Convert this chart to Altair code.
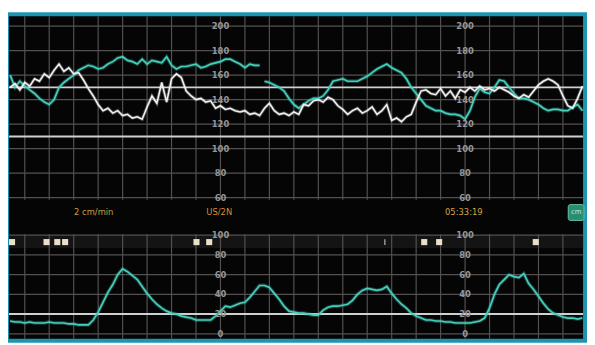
import altair as alt
import pandas as pd

# ---- data ----
t = [-6, -4, -2, 0, 2, 4, 6, 8, 10, 12, 14, 16, 18, 20, 22, 24, 26, 28, 30, 32,
     34, 36, 38, 40, 42, 44, 46, 48, 50, 52, 54, 56, 58, 60, 62, 64, 66, 68, 70, 72,
     74, 76, 78, 80, 82, 84, 86, 88, 90, 92, 94, 96, 98, 100, 102, 104, 106, 108, 110, 112,
     114, 116, 118, 120, 122, 124, 126, 128, 130, 132, 134, 136, 138, 140, 142, 144, 146, 148, 150, 152,
     154, 156, 158, 160, 162, 164, 166, 168, 170, 172, 174, 176, 178, 180, 182, 184, 186, 188, 190, 192,
     194, 196, 198, 200, 202, 204, 206, 208, 210, 212, 214, 216, 218, 220, 222, 224, 226, 228]

fhr_white = [150, 153, 148, 154, 151, 157, 155, 161, 158, 164, 169, 163, 166, 161, 162, 156, 149, 143, 136, 131,
             133, 129, 131, 127, 128, 125, 126, 124, 134, 143, 137, 154, 138, 157, 161, 158, 147, 143, 140, 141,
             138, 139, 133, 135, 132, 133, 131, 130, 131, 128, 129, 127, 133, 137, 131, 128, 129, 127, 130, 128,
             136, 135, 139, 140, 138, 142, 140, 135, 132, 128, 131, 133, 129, 131, 134, 128, 131, 136, 123, 125,
             122, 126, 128, 138, 147, 148, 145, 144, 149, 143, 147, 141, 148, 146, 150, 147, 151, 148, 149, 147,
             150, 148, 146, 143, 141, 144, 142, 147, 152, 155, 157, 155, 152, 143, 135, 133, 141, 151]

fhr_teal = [160, 150, 155, 151, 148, 145, 141, 138, 136, 140, 150, 154, 157, 160, 164, 166, 168, 167, 165, 166,
            169, 171, 174, 175, 172, 171, 169, 173, 169, 172, 171, 170, 175, 168, 165, 167, 167, 168, 169, 166,
            167, 169, 170, 171, 173, 173, 171, 169, 166, 169, 168, 168, 155, 154, 152, 150, 147, 141, 136, 133,
            136, 139, 141, 141, 143, 148, 155, 156, 157, 155, 155, 155, 157, 159, 162, 165, 167, 169, 166, 164,
            162, 157, 150, 145, 140, 135, 133, 131, 131, 129, 128, 128, 127, 124, 131, 142, 149, 146, 145, 150,
            156, 155, 150, 145, 141, 141, 140, 138, 136, 133, 131, 132, 132, 131, 131, 134, 136, 131]

ua = [13, 12, 12, 11, 12, 11, 11, 11, 12, 11, 11, 11, 10, 10, 9, 9, 9, 14, 22, 32,
      42, 50, 60, 66, 63, 59, 55, 48, 41, 35, 30, 26, 23, 21, 20, 18, 17, 16, 14, 14,
      14, 14, 18, 23, 28, 27, 29, 31, 32, 37, 43, 49, 49, 47, 41, 35, 28, 23, 22, 21,
      21, 20, 19, 19, 24, 27, 28, 28, 29, 30, 34, 40, 44, 46, 45, 44, 45, 48, 41, 35,
      30, 26, 21, 18, 16, 14, 14, 13, 13, 12, 12, 11, 11, 11, 11, 12, 13, 16, 26, 40,
      50, 55, 60, 58, 57, 61, 51, 45, 38, 31, 25, 21, 19, 17, 16, 16, 15, 16]

teal_gap_after = 96

fhr_ticks = [200, 180, 160, 140, 120, 100, 80, 60]
ua_ticks = [100, 80, 60, 40, 20, 0]
fhr_bold = [150, 110]
ua_bold = [20]
grid_t = [0, 10, 20, 30, 40, 50, 60, 70, 80, 90, 100, 110, 120, 130, 140, 150, 160, 170, 180, 190, 200, 210, 220]
label_cols = [80, 180]

marker_t = [-5.2, 8.9, 13.3, 16.5, 70.2, 75.4, 163.3, 169.4, 208.9]
marker_ua = 93
tick_t = [147.2]

status_text = ["2 cm/min", "US/2N", "05:33:19"]
status_t = [28.2, 79.5, 179.5]
status_color = ["#c9a043", "#d98a30", "#d6a445"]

# ---- tables ----
df_white = pd.DataFrame({"t": t, "v": fhr_white})
df_teal = pd.DataFrame({"t": t, "v": fhr_teal,
                        "seg": [1 if x <= teal_gap_after else 2 for x in t]})
df_ua = pd.DataFrame({"t": t, "v": ua})
df_grid = pd.DataFrame({"t": grid_t})
df_fhr_ticks = pd.DataFrame({"v": fhr_ticks})
df_ua_ticks = pd.DataFrame({"v": ua_ticks})
df_fhr_bold = pd.DataFrame({"v": fhr_bold})
df_ua_bold = pd.DataFrame({"v": ua_bold})
df_fhr_lab = pd.DataFrame([{"t": c, "v": v, "label": str(v)} for c in label_cols for v in fhr_ticks])
df_ua_lab = pd.DataFrame([{"t": c, "v": v, "label": str(v)} for c in label_cols for v in ua_ticks])
df_mark = pd.DataFrame({"t": marker_t, "v": [marker_ua] * len(marker_t)})
df_tick = pd.DataFrame({"t": tick_t, "v": [marker_ua] * len(tick_t)})
df_status = pd.DataFrame({"t": status_t, "label": status_text, "c": status_color})
one = pd.DataFrame({"a": [0]})

xs = alt.Scale(domain=[-6.45, 228.23], range=[1, 583], nice=False, zero=False)
fs = alt.Scale(domain=[60, 200], range=[190, 16], nice=False, zero=False)
us = alt.Scale(domain=[0, 100], range=[328, 228], nice=False, zero=False)

X = alt.X("t:Q", scale=xs, axis=None)
YF = alt.Y("v:Q", scale=fs, axis=None)
YU = alt.Y("v:Q", scale=us, axis=None)

frame = alt.Chart(one).mark_rect(color="#1c94b2").encode(
    x=alt.value(0), x2=alt.value(587), y=alt.value(2), y2=alt.value(337))
black = alt.Chart(one).mark_rect(color="#050505").encode(
    x=alt.value(1), x2=alt.value(583), y=alt.value(6), y2=alt.value(333))
band = alt.Chart(one).mark_rect(color="#141414").encode(
    x=alt.value(1), x2=alt.value(583), y=alt.value(228), y2=alt.value(241))

GRID = "#545052"
vgrid_top = alt.Chart(df_grid).mark_rule(color=GRID, strokeWidth=1.2).encode(
    x=X, y=alt.value(6), y2=alt.value(192))
vgrid_bot = alt.Chart(df_grid).mark_rule(color=GRID, strokeWidth=1.2).encode(
    x=X, y=alt.value(227), y2=alt.value(333))
hgrid_top = alt.Chart(df_fhr_ticks).mark_rule(color=GRID, strokeWidth=1.2).encode(
    y=YF, x=alt.value(1), x2=alt.value(583))
hgrid_bot = alt.Chart(df_ua_ticks).mark_rule(color=GRID, strokeWidth=1.2).encode(
    y=YU, x=alt.value(1), x2=alt.value(583))
bold_top = alt.Chart(df_fhr_bold).mark_rule(color="#d0d0d0", strokeWidth=2).encode(
    y=YF, x=alt.value(1), x2=alt.value(583))
bold_bot = alt.Chart(df_ua_bold).mark_rule(color="#d0d0d0", strokeWidth=2).encode(
    y=YU, x=alt.value(1), x2=alt.value(583))

teal_glow = alt.Chart(df_teal).mark_line(color="#3cc9b5", strokeWidth=3.8, opacity=0.3).encode(
    x=X, y=YF, detail="seg:N")
teal_line = alt.Chart(df_teal).mark_line(color="#45d0bd", strokeWidth=1.7).encode(
    x=X, y=YF, detail="seg:N")
white_glow = alt.Chart(df_white).mark_line(color="#ffffff", strokeWidth=3.4, opacity=0.25).encode(
    x=X, y=YF)
white_line = alt.Chart(df_white).mark_line(color="#f2f2f2", strokeWidth=1.6).encode(x=X, y=YF)
ua_glow = alt.Chart(df_ua).mark_line(color="#3cc9b5", strokeWidth=3.8, opacity=0.3).encode(x=X, y=YU)
ua_line = alt.Chart(df_ua).mark_line(color="#48cfbd", strokeWidth=1.7).encode(x=X, y=YU)

marks = alt.Chart(df_mark).mark_square(color="#eadfc8", size=38, opacity=1).encode(x=X, y=YU)
ticks = alt.Chart(df_tick).mark_tick(color="#cfcfcf", thickness=1.5, size=6).encode(x=X, y=YU)

lab_top = alt.Chart(df_fhr_lab).mark_text(
    color="#969696", fontSize=8.5, fontWeight="bold", font="DejaVu Sans").encode(x=X, y=YF, text="label:N")
lab_bot = alt.Chart(df_ua_lab).mark_text(
    color="#969696", fontSize=8.5, fontWeight="bold", font="DejaVu Sans").encode(x=X, y=YU, text="label:N")

status = alt.Chart(df_status).mark_text(fontSize=8.5, font="DejaVu Sans").encode(
    x=X, y=alt.value(205), text="label:N", color=alt.Color("c:N", scale=None))

button = alt.Chart(one).mark_rect(color="#2b8c74", stroke="#5fc4a6", strokeWidth=1, cornerRadius=2).encode(
    x=alt.value(568), x2=alt.value(584), y=alt.value(197), y2=alt.value(213))
button_txt = alt.Chart(one).mark_text(text="cm", color="#b8f0dc", fontSize=7, font="DejaVu Sans").encode(
    x=alt.value(576), y=alt.value(205))

chart = alt.layer(
    frame, black, band,
    vgrid_top, vgrid_bot, hgrid_top, hgrid_bot, bold_top, bold_bot,
    teal_glow, white_glow, teal_line, white_line, ua_glow, ua_line,
    marks, ticks, lab_top, lab_bot, status, button, button_txt
).resolve_scale(y="independent").properties(
    width=587, height=337, padding=0,
    autosize=alt.AutoSizeParams(type="none"),
    background="white"
).configure_view(stroke=None)

chart.save("out.html", embed_options={"renderer": "svg", "actions": False})
